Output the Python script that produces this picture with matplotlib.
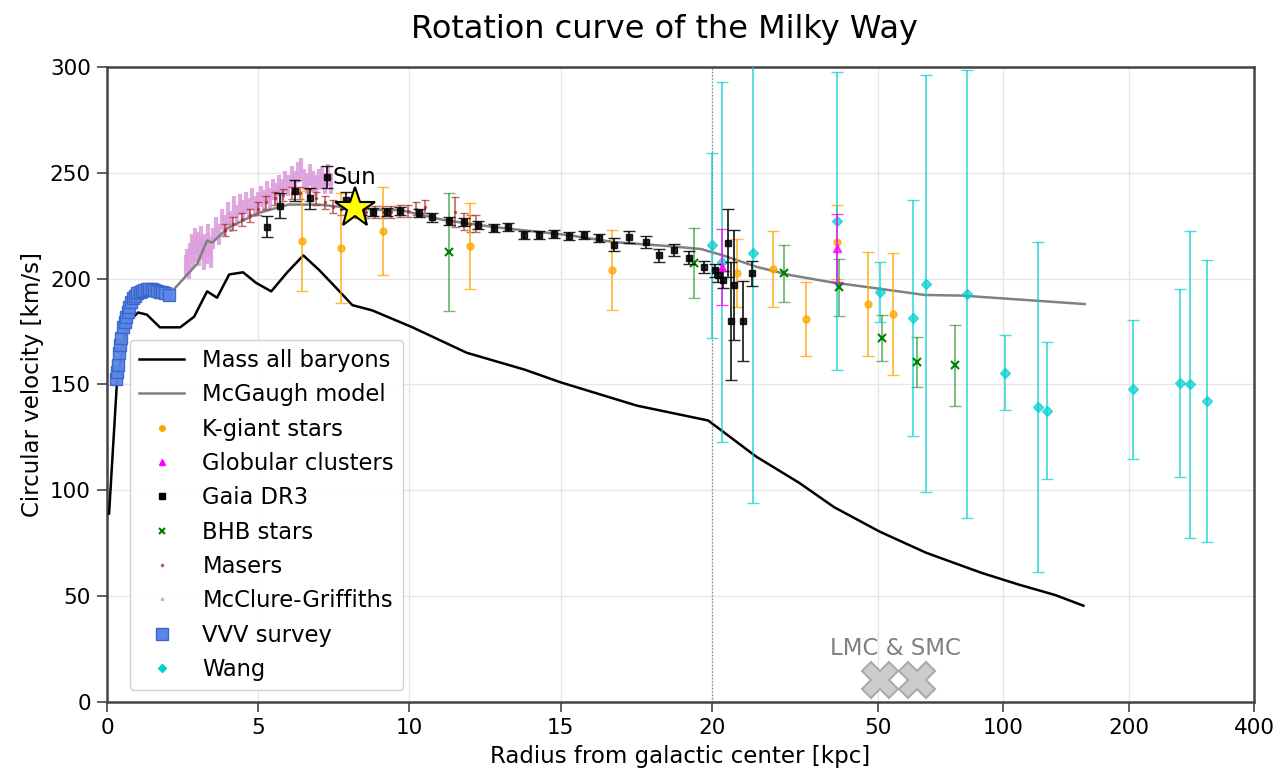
import numpy as np
import matplotlib
matplotlib.use('Agg')
import matplotlib.pyplot as plt
from matplotlib.lines import Line2D

# x axis: linear up to 20 kpc, log2 beyond
X_BREAK = 20.0
K = 4.146


def fwd(x):
    x = np.asarray(x, dtype=float)
    return np.where(x <= X_BREAK, x, X_BREAK + K * np.log2(np.maximum(x, X_BREAK) / X_BREAK))


def inv(t):
    t = np.asarray(t, dtype=float)
    return np.where(t <= X_BREAK, t, X_BREAK * 2 ** ((np.maximum(t, X_BREAK) - X_BREAK) / K))


# mass of all baryons
bary_r = [0.07, 0.33, 0.66, 1.03, 1.32, 1.75, 2.12, 2.42, 2.88, 3.31, 3.64, 4.04, 4.5, 4.93,
          5.43, 5.96, 6.49, 7.02, 7.62, 8.11, 8.77, 10.1, 11.89, 13.81, 15.0, 17.52, 19.87,
          21.0, 25.5, 32.4, 39.3, 50.5, 65.3, 88.7, 108.8, 133.4, 155.7]
bary_v = [89, 151, 179, 184, 183, 177, 177, 177, 182, 194, 191, 202, 203, 198,
          194, 203, 211, 204, 195, 187.5, 185, 177, 165, 157, 151, 140, 133,
          128.5, 116, 103.5, 92, 80.5, 70.5, 61, 55.5, 50.5, 45.5]

# McGaugh model
mcg_r = [2.15, 2.98, 3.31, 3.48, 4.0, 5.0, 6.0, 7.0, 8.0, 9.0, 9.7, 11.13, 12.78, 15.23,
         16.75, 18.54, 19.64, 21.25, 25.67, 30.8, 38.4, 48.9, 64.8, 79.6, 156.8]
mcg_v = [194, 207, 218, 217, 224, 231, 235, 235, 233.5, 232.5, 232.4, 227.7, 224.4, 220.6,
         217.3, 215.4, 214, 211, 205.5, 201.7, 198.4, 195.6, 192.3, 192, 188]

# K-giant stars
kg_r = [6.46, 7.72, 9.14, 11.99, 16.69, 23.0, 28.06, 33.7, 39.9, 47.4, 54.3]
kg_v = [217.8, 214.5, 222.5, 215.4, 204, 202.6, 204.5, 181, 217.3, 188, 183.3]
kg_e = [23.5, 26, 20.7, 20.5, 19, 16, 18, 17.5, 17.5, 24.5, 29]

# globular clusters
gc_r = [21.1, 39.9]
gc_v = [205.5, 214.5]
gc_e = [18, 16]

# Gaia DR3
gaia_r = [5.3, 5.73, 6.22, 6.72, 7.28, 7.9, 8.4, 8.8, 9.27, 9.7, 10.3, 10.76, 11.3, 11.8,
          12.28, 12.78, 13.25, 13.77, 14.27, 14.77, 15.26, 15.76, 16.26, 16.75, 17.25,
          17.81, 18.25, 18.74, 19.24, 19.73, 20.3, 20.7, 21.25, 21.8, 22.2, 22.6, 23.7, 24.9]
gaia_v = [224.5, 234.5, 241.5, 238, 248, 237, 232, 231.5, 231.5, 232, 231, 229, 227.2, 226.7,
          225.3, 224, 224.4, 220.6, 220.6, 221, 220.1, 220.6, 219.2, 216, 219.7,
          217.3, 211, 213.5, 210, 205.5, 204, 201.5, 199.5, 217, 180, 197, 180, 202.5]
gaia_e = [5, 6, 5, 5, 5, 4, 2, 2, 2, 2, 2, 2, 2, 2,
          2, 2, 2, 2, 2, 2, 2, 2, 2, 3, 3,
          3, 3, 3, 3, 3, 3, 3, 4, 16, 28, 26, 19, 6]

# BHB stars
bhb_r = [11.29, 19.4, 29.8, 40.4, 51.1, 62.2, 76.4]
bhb_v = [212.6, 207.4, 202.6, 196, 172, 160.6, 159]
bhb_e = [28, 16.5, 13.5, 13.5, 11, 11.7, 19]

# masers
mas_r = [3.9, 4.17, 4.45, 4.72, 5.0, 5.27, 5.55, 5.82, 6.1, 6.37, 6.65, 6.92, 7.2, 7.47,
         7.75, 8.02, 8.3, 8.57, 8.85, 9.12, 9.4, 9.67, 9.95, 10.2, 10.5, 11.5, 11.8, 12.0, 12.2]
mas_v = [223, 226, 228, 230, 233, 236, 238, 239.5, 240.5, 240.5, 239.5, 238, 236, 234,
         233, 232, 231.5, 231.5, 231.5, 231.5, 231.5, 232, 232, 233, 234, 231.5, 227, 226, 226]
mas_e = [3] * 25 + [7, 4, 4, 4]

# McClure-Griffiths HI terminal velocities
mcc_r = [2.6, 2.65, 2.7, 2.75, 2.8, 2.85, 2.9, 2.95, 3.0, 3.05, 3.1, 3.15, 3.2, 3.25, 3.3,
         3.35, 3.4, 3.45, 3.5, 3.6, 3.7, 3.8, 3.9, 4.0, 4.1, 4.2, 4.3, 4.4, 4.5, 4.6, 4.7,
         4.8, 4.9, 5.0, 5.1, 5.2, 5.3, 5.4, 5.5, 5.6, 5.7, 5.8, 5.9, 6.0, 6.1, 6.2, 6.3,
         6.4, 6.5, 6.6, 6.7, 6.8, 6.9, 7.0, 7.1, 7.2, 7.3, 7.4]
mcc_v = [206, 209, 205, 212, 216, 210, 219, 213, 217, 211, 220, 214, 209, 216, 212,
         221, 215, 210, 219, 224, 221, 228, 225, 231, 227, 234, 230, 235, 232, 236, 233,
         238, 234, 236, 239, 237, 241, 238, 242, 240, 244, 242, 246, 244, 248, 246, 250,
         252, 247, 245, 249, 246, 244, 247, 248, 245, 249, 245]

# VVV survey
vvv_r = [0.30, 0.33, 0.36, 0.40, 0.43, 0.46, 0.53, 0.58, 0.63, 0.68, 0.73, 0.80, 0.86, 0.92,
         0.99, 1.08, 1.16, 1.24, 1.32, 1.40, 1.49, 1.57, 1.66, 1.74, 1.82, 1.92, 2.05]
vvv_v = [152.6, 156, 159.2, 164.9, 168.5, 171.9, 177.1, 179.5, 181.9, 184.3, 186.6, 188.8,
         190.8, 192, 193.2, 193.7, 194.1, 194.6, 195, 195, 195, 194.6, 194.1, 193.9, 193.7,
         193, 192.3]

# Wang
wang_r = [20.0, 21.1, 25.1, 39.9, 50.5, 60.6, 65.1, 81.9, 100.9, 121.4, 127.3, 204.4,
          265.9, 280.1, 308.9]
wang_v = [215.9, 207.8, 212, 227.2, 193.7, 181.4, 197.5, 192.7, 155.5, 139.2, 137.6, 147.7,
          150.5, 150, 142.2]
wang_e = [43.7, 85, 118, 70.5, 14, 55.6, 98.5, 106, 17.7, 78, 32.3, 33, 44.4, 72.6, 66.6]

sun_r, sun_v = 8.2, 233.3
clouds_r = [50.5, 62.0]
clouds_v = [10.5, 10.5]

xticks = [0, 5, 10, 15, 20, 50, 100, 200, 400]

fig = plt.figure(figsize=(12.81, 7.72), dpi=100)
ax = fig.add_axes([0.0835, 0.0907, 0.8955, 0.8225])
ax.set_xscale('function', functions=(fwd, inv))

ax.plot(bary_r, bary_v, color='black', lw=1.8, zorder=3)
ax.plot(mcg_r, mcg_v, color='gray', lw=1.8, zorder=3)

ax.errorbar(mcc_r, mcc_v, yerr=5, fmt='.', color='plum', ms=3, elinewidth=3,
            capsize=0, alpha=0.9, zorder=2)
ax.errorbar(mas_r, mas_v, yerr=mas_e, fmt='.', color='brown', ms=3, elinewidth=1.2,
            capsize=3, alpha=0.7, zorder=4)
ax.errorbar(kg_r, kg_v, yerr=kg_e, fmt='o', color='orange', ms=5, elinewidth=1.3,
            capsize=4, alpha=0.75, zorder=4)
ax.errorbar(bhb_r, bhb_v, yerr=bhb_e, fmt='none', ecolor='green', elinewidth=1.3,
            capsize=4, alpha=0.55, zorder=4)
ax.plot(bhb_r, bhb_v, 'x', color='green', ms=6, mew=1.5, zorder=5)
ax.errorbar(wang_r, wang_v, yerr=wang_e, fmt='D', color='darkturquoise', ms=5,
            elinewidth=1.3, capsize=4, alpha=0.7, zorder=4)
ax.errorbar(gc_r, gc_v, yerr=gc_e, fmt='^', color='magenta', ms=6, elinewidth=1.3,
            capsize=4, alpha=0.75, zorder=5)
ax.errorbar(gaia_r, gaia_v, yerr=gaia_e, fmt='s', color='black', ms=5, elinewidth=1.3,
            capsize=4, alpha=0.85, zorder=5)
ax.plot(vvv_r, vvv_v, 's', color='#5a86e6', mec='#3a66cc', ms=8, alpha=0.95, zorder=6)

ax.plot(sun_r, sun_v, '*', color='yellow', mec='black', mew=1.5, ms=30, zorder=7)
ax.text(7.45, 248, 'Sun', fontsize=16.5, ha='left', va='center', zorder=7)

ax.plot(clouds_r, clouds_v, 'X', color='#cccccc', mec='#aaaaaa', mew=1.5, ms=26, zorder=3)
ax.text(55.2, 25.5, 'LMC & SMC', fontsize=16.5, color='gray', ha='center', va='center')

ax.axvline(X_BREAK, color='gray', ls=':', lw=0.9, zorder=1)

ax.set_xlim(0, 400)
ax.set_ylim(0, 300)
ax.set_xticks(xticks)
ax.set_xticklabels([str(t) for t in xticks])
ax.set_yticks(range(0, 301, 50))
ax.grid(True, color='#e6e6e6', lw=1, zorder=0)
ax.set_axisbelow(True)
ax.tick_params(labelsize=15.5, length=7, width=1.2, pad=4.5, color='#444444')
for s in ax.spines.values():
    s.set_color('#444444')
    s.set_linewidth(1.8)

ax.set_title('Rotation curve of the Milky Way', fontsize=23, pad=21, x=0.486)
ax.set_xlabel('Radius from galactic center [kpc]', fontsize=16.5, labelpad=5)
ax.set_ylabel('Circular velocity [km/s]', fontsize=16.5)

handles = [
    Line2D([], [], color='black', lw=1.8),
    Line2D([], [], color='gray', lw=1.8),
    Line2D([], [], ls='none', marker='o', color='orange', ms=4),
    Line2D([], [], ls='none', marker='^', color='magenta', ms=5),
    Line2D([], [], ls='none', marker='s', color='black', ms=4),
    Line2D([], [], ls='none', marker='x', color='green', ms=5, mew=1.5),
    Line2D([], [], ls='none', marker='.', color='brown', ms=3, alpha=0.7),
    Line2D([], [], ls='none', marker='.', color='plum', ms=3),
    Line2D([], [], ls='none', marker='s', color='#5a86e6', mec='#3a66cc', ms=8),
    Line2D([], [], ls='none', marker='D', color='darkturquoise', ms=4),
]
labels = ['Mass all baryons', 'McGaugh model', 'K-giant stars', 'Globular clusters',
          'Gaia DR3', 'BHB stars', 'Masers', 'McClure-Griffiths', 'VVV survey', 'Wang']
ax.legend(handles, labels, loc='lower left', bbox_to_anchor=(0.02, 0.019),
          borderaxespad=0, fontsize=16.3, framealpha=0.9, edgecolor='#cccccc',
          labelspacing=0.5, handlelength=2.0)

fig.savefig('out.png', dpi=100)
